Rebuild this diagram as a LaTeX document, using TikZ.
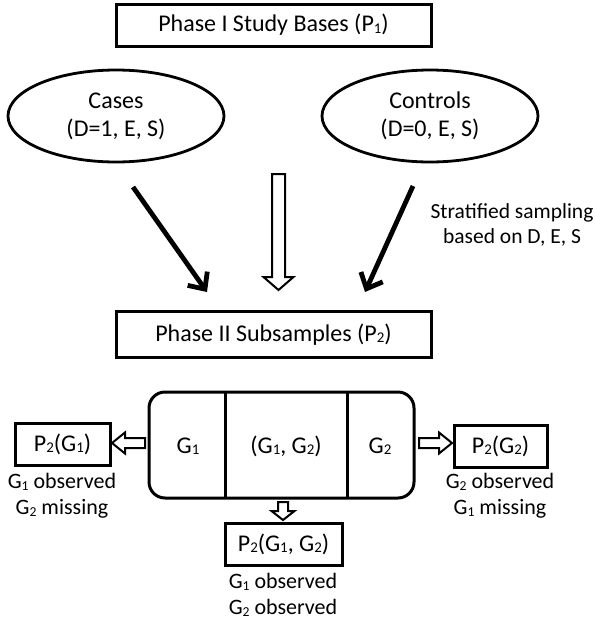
\documentclass[tikz,border=0pt]{standalone}
\usepackage{fontspec}
\usepackage{graphicx}
\setmainfont{Carlito}
\usetikzlibrary{arrows.meta,shapes.geometric}
\newcommand\lo[1]{\raisebox{-0.06em}{\scalebox{0.62}{#1}}}
\begin{document}
\begin{tikzpicture}[x=1pt,y=-1pt,
  box/.style={draw, line width=3pt, minimum height=42pt, inner sep=0pt},
  ell/.style={ellipse, draw, line width=2.8pt, minimum width=216pt, minimum height=92pt, inner sep=0pt, align=center},
  thickarrow/.style={line width=4.8pt, -{Straight Barb[length=13pt, width=24pt]}},
  hollow/.style={draw, line width=2pt, fill=white, line join=miter},
  divider/.style={line width=3pt},
  lbl/.style={align=center, font=\fontsize{22}{26}\selectfont},
  big/.style={align=center, font=\fontsize{24}{28}\selectfont}]
\useasboundingbox (0,0) rectangle (595,622);

% top section
\node[box, big, minimum width=315pt] (p1) at (273.5,25) {Phase I Study Bases (P\lo{1})};
\node[ell, big] (cases) at (116,116) {Cases\\(D=1, E, S)};
\node[ell, big] (controls) at (430,116) {Controls\\(D=0, E, S)};
\node[box, big, minimum width=315pt, minimum height=46pt] (p2) at (273.5,334.5) {Phase II Subsamples (P\lo{2})};
\node[lbl, font=\fontsize{21.5}{25}\selectfont] (strat) at (512,224.5) {Stratified sampling\\based on D, E, S};

% thick arrows
\coordinate (a1s) at (133,187);
\coordinate (a1e) at (207,292);
\coordinate (a2s) at (413,186);
\coordinate (a2e) at (365,292);
\draw[thickarrow] (a1s) -- (a1e);
\draw[thickarrow] (a2s) -- (a2e);

% central hollow arrow
\draw[hollow] (272,174) -- (285,174) -- (285,277) -- (293.5,277) -- (278.5,290) -- (263.5,277) -- (272,277) -- cycle;

% grouped box
\node[draw, rounded corners=16pt, line width=3pt, minimum width=265pt, minimum height=106pt, inner sep=0pt] (grp) at (281.5,445) {};
\coordinate (d1t) at (225,392);
\coordinate (d1b) at (225,498);
\coordinate (d2t) at (347,392);
\coordinate (d2b) at (347,498);
\draw[divider] (d1t) -- (d1b);
\draw[divider] (d2t) -- (d2b);
\node[big] (g1) at (188,446) {G\lo{1}};
\node[big] (g12) at (286,446) {(G\lo{1}, G\lo{2})};
\node[big] (g2) at (380,446) {G\lo{2}};

% result boxes
\node[box, big, minimum width=95pt] (b1) at (62.5,444) {P\lo{2}(G\lo{1})};
\node[box, big, minimum width=93pt] (b2) at (500.5,446) {P\lo{2}(G\lo{2})};
\node[box, big, minimum width=117pt] (b3) at (283.5,544) {P\lo{2}(G\lo{1}, G\lo{2})};

% hollow small arrows
\draw[hollow] (145,438) -- (125,438) -- (125,432.5) -- (112,443) -- (125,453.5) -- (125,448) -- (145,448) -- cycle;
\draw[hollow] (419,438) -- (439,438) -- (439,432.5) -- (452,443) -- (439,453.5) -- (439,448) -- (419,448) -- cycle;
\draw[hollow] (278,502) -- (288,502) -- (288,511) -- (294.5,511) -- (283,520) -- (271.5,511) -- (278,511) -- cycle;

% labels
\node[lbl] (l1) at (62,496) {G\lo{1} observed\\G\lo{2} missing};
\node[lbl] (l2) at (500,496) {G\lo{2} observed\\G\lo{1} missing};
\node[lbl] (l3) at (283,595) {G\lo{1} observed\\G\lo{2} observed};
\end{tikzpicture}
\end{document}
